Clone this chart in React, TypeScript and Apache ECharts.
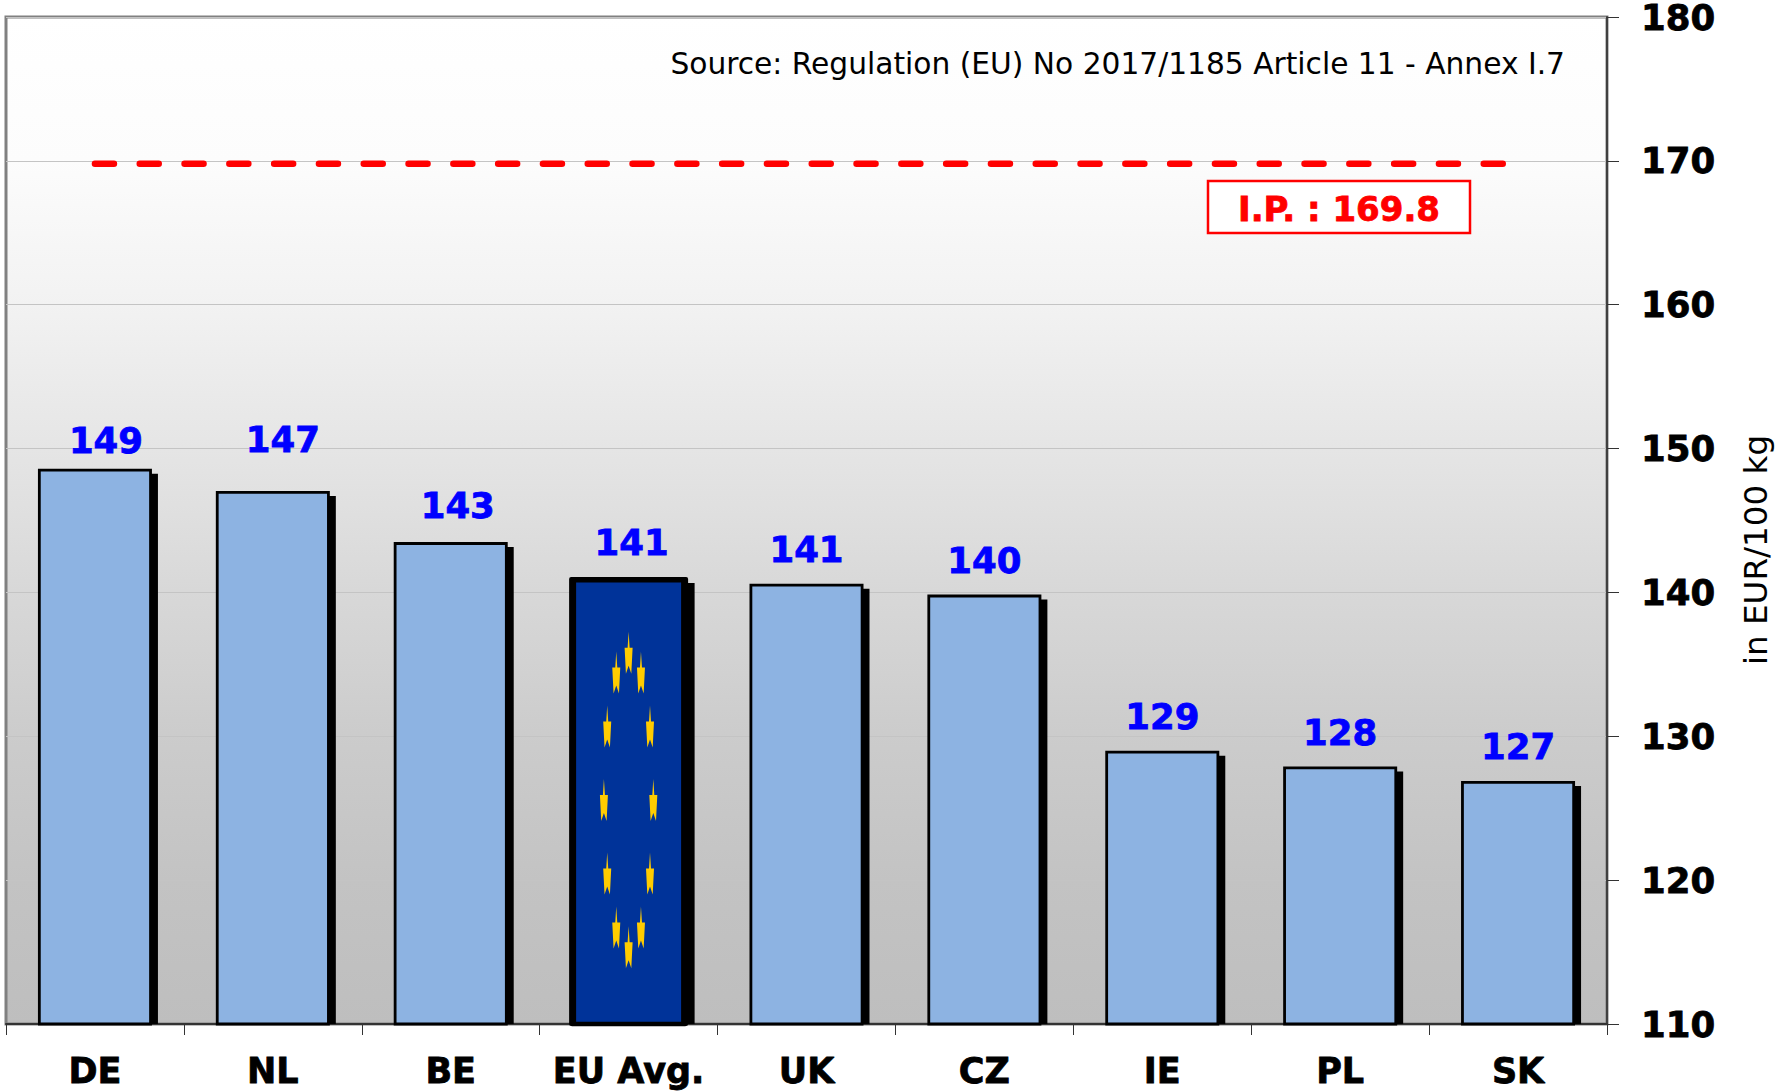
import React, { useEffect, useRef } from "react";
import * as echarts from "echarts";

const categories = ["DE", "NL", "BE", "EU Avg.", "UK", "CZ", "IE", "PL", "SK"];
const values = [148.6, 147.05, 143.5, 141, 140.6, 139.85, 129, 127.9, 126.9];
const valueLabels = ["149", "147", "143", "141", "141", "140", "129", "128", "127"];
const yTicks = { min: 110, max: 180, interval: 10 };
const intervention = 169.8;
const interventionLabel = "I.P. : 169.8";
const sourceText = "Source: Regulation (EU) No 2017/1185 Article 11 - Annex I.7";
const unitText = "in EUR/100 kg";
const euIndex = 3;

const labelDx = [11, 10, 7, 3, 0, 0, 0, 0, 0];
const labelDy = [-10, -34, -19, -18, -16, -16, -16, -16, -16];

const FONT = "'DejaVu Sans', Verdana, sans-serif";

export default function App() {
  const ref = useRef<HTMLDivElement>(null);
  useEffect(() => {
    const chart = echarts.init(ref.current!, null, { renderer: "svg" });
    const option: any = {
      animation: false,
      backgroundColor: "#ffffff",
      textStyle: { fontFamily: FONT },
      grid: {
        left: 6,
        right: 172,
        top: 17,
        bottom: 68,
        outerBoundsMode: "none",
        show: true,
        borderColor: "#808080",
        borderWidth: 3,
        backgroundColor: new echarts.graphic.LinearGradient(0, 0, 0, 1, [
          { offset: 0, color: "#ffffff" },
          { offset: 0.143, color: "#fcfcfc" },
          { offset: 0.286, color: "#f2f2f2" },
          { offset: 0.43, color: "#e5e5e5" },
          { offset: 0.57, color: "#d8d8d8" },
          { offset: 0.71, color: "#cccccc" },
          { offset: 0.857, color: "#c3c3c3" },
          { offset: 1, color: "#bebebe" },
        ]),
      },
      xAxis: {
        type: "category",
        data: categories,
        axisLine: { show: true, lineStyle: { color: "#333333", width: 2 } },
        axisTick: { show: true, length: 11, lineStyle: { color: "#333333", width: 1 } },
        axisLabel: {
          color: "#000",
          fontFamily: FONT,
          fontWeight: "bold",
          fontSize: 35,
          margin: 29,
          interval: 0,
          textBorderColor: "#000",
          textBorderWidth: 0.8,
        },
      },
      yAxis: {
        type: "value",
        position: "right",
        min: yTicks.min,
        max: yTicks.max,
        interval: yTicks.interval,
        axisLine: { show: true, lineStyle: { color: "#404040", width: 2 } },
        axisTick: { show: true, length: 12, lineStyle: { color: "#333333", width: 1 } },
        axisLabel: {
          color: "#000",
          fontFamily: FONT,
          fontWeight: "bold",
          fontSize: 35.5,
          lineHeight: 32,
          margin: 34,
          textBorderColor: "#000",
          textBorderWidth: 0.8,
        },
        splitLine: { show: true, lineStyle: { color: "#c4c4c4", width: 1 } },
      },
      series: [
        {
          name: "Shadow",
          type: "custom",
          z: 2,
          silent: true,
          data: values.map((v, i) => [i, v]),
          encode: { x: 0, y: 1 },
          renderItem: (_: any, api: any) => {
            const i = api.value(0);
            const v = api.value(1);
            const top = api.coord([i, v]);
            const base = api.coord([i, yTicks.min]);
            const children: any[] = [
              {
                type: "rect",
                shape: {
                  x: top[0] - 51,
                  y: top[1] + 5,
                  width: i === euIndex ? 117 : 114,
                  height: base[1] - top[1] - 5,
                },
                style: { fill: "#000" },
              },
            ];
            if (i === euIndex) {
              children.push({
                type: "rect",
                shape: {
                  x: top[0] - 59.5,
                  y: top[1] - 1,
                  width: 119,
                  height: base[1] - top[1] + 3,
                  r: 2,
                },
                style: { fill: "#000" },
              });
            }
            return { type: "group", children };
          },
        },
        {
          name: "Price",
          type: "bar",
          z: 3,
          barWidth: 114,
          data: values.map((v, i) => ({
            value: v,
            itemStyle:
              i === euIndex
                ? { color: "#003399", borderColor: "#000", borderWidth: 4.5 }
                : { color: "#8db3e2", borderColor: "#000", borderWidth: 2.8 },
            label: {
              show: true,
              position: "top",
              distance: 0,
              offset: [labelDx[i], labelDy[i]],
              formatter: valueLabels[i],
              color: "#0000ff",
              fontFamily: FONT,
              fontWeight: "bold",
              fontSize: 35.5,
              textBorderColor: "#0000ff",
              textBorderWidth: 0.8,
            },
          })),
        },
        {
          name: "EU stars",
          type: "custom",
          z: 4,
          silent: true,
          data: [[euIndex, values[euIndex]]],
          encode: { x: 0, y: 1 },
          renderItem: (_: any, api: any) => {
            const top = api.coord([api.value(0), api.value(1)]);
            const base = api.coord([api.value(0), yTicks.min]);
            const cx = top[0];
            const cy = (top[1] + base[1]) / 2 - 1;
            const rx = 24.7;
            const ry = 0.33 * (base[1] - top[1]);
            const children = [];
            for (let k = 0; k < 12; k++) {
              const a = (k * Math.PI) / 6;
              const x = cx + rx * Math.sin(a);
              const y = cy - ry * Math.cos(a);
              children.push({
                type: "polygon",
                shape: {
                  points: [
                    [x, y - 21],
                    [x + 1, y - 5],
                    [x + 4, y - 5],
                    [x + 2.7, y + 21],
                    [x, y + 13],
                    [x - 2.7, y + 21],
                    [x - 4, y - 5],
                    [x - 1, y - 5],
                  ],
                },
                style: { fill: "#ffcc00" },
              });
            }
            return { type: "group", children };
          },
        },
        {
          name: "Intervention price",
          type: "line",
          z: 5,
          symbol: "none",
          silent: true,
          data: categories.map(() => intervention),
          lineStyle: { color: "#ff0000", width: 6.5, type: [19, 25.8], cap: "round" },
        },
      ],
      graphic: [
        {
          type: "text",
          z: 10,
          right: 214,
          top: 48,
          style: { text: sourceText, fontFamily: FONT, fontSize: 29.7, fill: "#000" },
        },
        {
          type: "rect",
          z: 10,
          shape: { x: 1208, y: 181, width: 262, height: 52 },
          style: { fill: "#ffffff", stroke: "#ff0000", lineWidth: 2.5 },
        },
        {
          type: "text",
          z: 11,
          x: 1339,
          y: 209,
          style: {
            text: interventionLabel,
            fontFamily: FONT,
            fontWeight: "bold",
            fontSize: 34,
            fill: "#ff0000",
            stroke: "#ff0000",
            lineWidth: 0.8,
            align: "center",
            verticalAlign: "middle",
          },
        },
        {
          type: "text",
          z: 10,
          x: 1756,
          y: 550,
          rotation: Math.PI / 2,
          style: {
            text: unitText,
            fontFamily: FONT,
            fontSize: 32.6,
            fill: "#000",
            align: "center",
            verticalAlign: "middle",
          },
        },
      ],
    };
    chart.setOption(option);
    return () => chart.dispose();
  }, []);
  return <div ref={ref} style={{ position: "absolute", left: 0, top: 0, width: 1779, height: 1092 }} />;
}
